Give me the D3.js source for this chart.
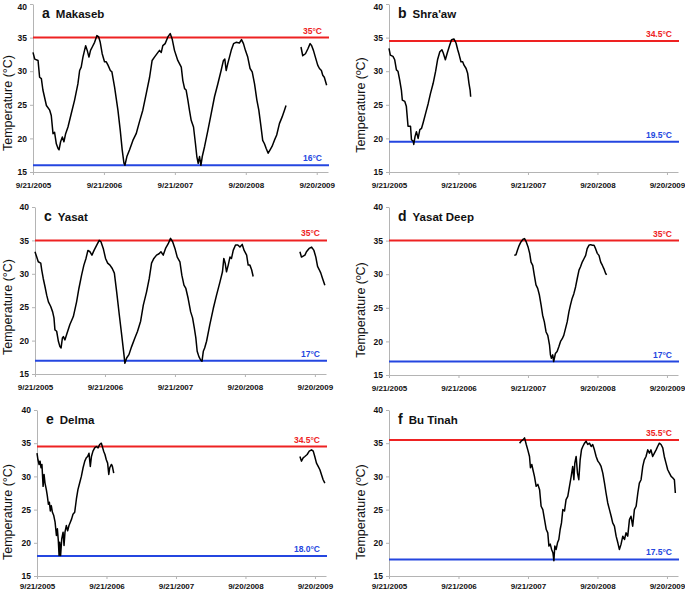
<!DOCTYPE html>
<html>
<head>
<meta charset="utf-8">
<script src="https://cdn.jsdelivr.net/npm/d3@7"></script>
<style>
  html, body { margin: 0; padding: 0; background: #fff; }
  svg { display: block; }
  text { font-family: "Liberation Sans", Arial, sans-serif; }
</style>
</head>
<body>
<svg id="chart" width="685" height="593"></svg>
<script>
// ---------------- DATA ----------------
const tickDays = [0, 365, 730, 1095, 1460];
const tickLabels = ["9/21/2005", "9/21/2006", "9/21/2007", "9/20/2008", "9/20/2009"];
const yTicks = [15, 20, 25, 30, 35, 40];

const panelLetters = ["a", "b", "c", "d", "e", "f"];
const siteNames = ["Makaseb", "Shra'aw", "Yasat", "Yasat Deep", "Delma", "Bu Tinah"];
const yTitles = ["Temperature (°C)", "Temperature (ºC)", "Temperature (°C)", "Temperature (ºC)", "Temperature (°C)", "Temperature (ºC)"];
const upperThresholds = [35, 34.5, 35, 35, 34.5, 35.5];
const lowerThresholds = [16, 19.5, 17, 17, 18.0, 17.5];
const upperLabels = ["35°C", "34.5°C", "35°C", "35°C", "34.5°C", "35.5°C"];
const lowerLabels = ["16°C", "19.5°C", "17°C", "17°C", "18.0°C", "17.5°C"];

// days since 9/21/2005, temperature (°C); null = logger gap
const makasebDays = [0,9,26,34,43,51,69,86,94,103,111,120,129,134,142,151,159,168,180,197,214,231,240,248,257,271,279,288,296,305,317,329,338,346,356,368,377,386,398,406,420,437,449,459,468,473,483,497,514,531,548,565,583,600,613,625,643,651,660,668,680,694,706,716,728,745,763,771,780,788,797,805,814,826,836,843,850,857,864,871,883,900,917,934,951,968,980,987,994,1002,1011,1020,1032,1045,1062,1073,1083,1093,1105,1117,1128,1140,1152,1162,1172,1182,1191,1200,1210,1220,1230,1242,1254,1268,1282,1294,1302,1340,1379,1388,1402,1414,1426,1434,1443,1453,1465,1474,1484,1491,1499,1511];
const makasebTemps = [32.8,31.8,31.6,29.1,28.9,27.2,24.9,24.2,23.4,20.7,20.9,19.2,18.5,18.3,19.5,20.2,19.5,20.7,21.7,23.7,25.7,28.1,30.1,30.6,32.1,33.8,33.1,32.1,33.1,33.6,34.3,35.3,35.1,34.3,32.6,31.4,31.4,30.9,30.1,29.9,27.6,24.2,21.2,18.3,16.3,16.0,17.3,18.3,19.7,20.7,22.5,24.2,26.7,29.1,31.6,32.1,32.8,33.1,32.8,33.8,34.1,35.1,35.6,34.8,33.1,31.6,30.6,28.6,27.4,27.2,25.7,24.2,22.7,21.7,19.2,17.3,16.3,17.3,16.0,17.3,18.8,21.2,23.7,26.2,28.1,30.1,31.6,31.8,30.1,31.1,32.1,33.1,34.1,34.3,34.2,34.7,34.1,33.1,32.1,30.4,29.9,28.1,25.7,24.2,22.0,19.7,19.2,18.5,17.8,18.3,18.8,19.7,20.5,22.2,23.2,24.2,24.9,null,33.6,32.3,32.6,33.3,34.1,33.8,33.1,32.1,30.9,30.4,30.1,29.4,29.1,27.9];

const shraawDays = [0,7,21,30,39,47,56,65,70,83,91,100,113,118,127,130,137,144,153,162,171,179,193,206,218,232,245,255,267,278,285,296,306,317,329,341,352,361,369,378,387,394,405,413,420,426,429];
const shraawTemps = [33.4,32.4,32.2,31.7,30.2,30.0,28.7,27.2,25.7,25.5,24.8,21.8,21.8,19.8,19.6,19.1,20.3,21.0,20.0,21.3,21.5,22.3,23.8,25.2,26.7,28.2,30.0,31.7,32.9,33.2,32.7,31.7,32.7,33.7,34.7,34.8,34.2,33.2,32.4,31.4,31.4,30.9,30.4,29.7,28.2,27.2,26.2];

const yasatDays = [0,9,17,30,35,43,52,61,70,82,92,99,104,113,122,130,136,143,148,156,165,182,200,217,229,243,255,266,276,287,297,308,322,335,344,356,368,379,391,403,414,426,440,452,464,469,478,490,504,521,535,551,565,582,596,608,620,634,647,657,669,681,695,707,718,730,742,756,766,777,787,799,812,822,831,839,846,855,864,871,878,885,895,912,930,947,965,978,985,992,999,1008,1017,1025,1034,1046,1058,1069,1081,1091,1104,1112,1121,1130,1138,1260,1382,1390,1408,1416,1430,1443,1455,1465,1474,1483,1491,1500,1512];
const yasatTemps = [33.3,32.5,31.8,31.6,30.6,29.3,28.1,26.8,25.8,25.1,24.3,23.4,21.6,21.4,19.9,19.1,18.9,20.4,20.6,20.1,20.9,22.4,23.6,25.8,27.8,29.8,31.3,32.3,33.5,33.3,32.8,33.5,34.3,35.0,34.8,33.8,32.3,31.6,31.3,30.8,30.1,27.3,23.8,20.9,17.9,16.6,17.4,17.9,19.1,20.4,21.4,22.9,25.3,27.3,29.3,31.6,32.3,32.8,33.0,33.3,32.8,33.8,34.5,35.3,34.8,33.8,32.5,31.8,29.8,28.3,27.8,26.3,24.3,23.4,21.9,20.4,18.4,17.6,17.1,16.9,18.4,18.9,19.9,22.4,24.8,26.8,28.8,30.3,32.3,31.6,30.3,31.3,32.5,32.3,33.5,34.3,34.3,34.0,34.4,33.5,32.8,31.3,31.3,30.6,29.6,null,33.3,32.5,32.8,33.3,33.8,34.0,33.5,32.5,31.1,30.6,30.1,29.3,28.3];

const yasatDeepDays = [658,667,675,684,693,704,712,721,730,739,746,755,763,772,781,790,799,807,816,825,834,843,848,853,860,865,874,883,892,901,910,918,927,936,945,953,962,971,980,989,998,1006,1015,1024,1033,1041,1050,1059,1068,1077,1085,1094,1103,1112,1121,1129,1138,1143];
const yasatDeepTemps = [32.8,32.9,33.6,34.3,34.8,35.2,35.3,34.8,34.1,33.1,31.8,31.3,29.9,28.4,27.9,26.9,25.4,23.9,22.9,21.4,20.9,19.5,18.0,17.5,18.0,17.0,18.2,18.5,19.2,20.0,20.4,20.9,21.9,22.9,24.4,25.4,26.4,27.1,28.1,29.4,30.6,31.1,31.8,32.3,32.8,33.8,34.3,34.4,34.3,34.3,33.8,33.1,32.8,31.8,31.3,30.8,30.1,29.9];

const delmaDays = [0,5,11,16,21,26,32,37,42,49,54,60,65,70,75,81,88,95,102,107,112,116,119,124,130,137,142,147,154,161,168,175,182,189,198,207,215,224,233,242,251,259,266,273,280,286,294,303,312,321,329,338,343,350,357,364,371,377,382,391,396,403,900,1381,1389,1398,1407,1419,1430,1442,1451,1459,1468,1477,1486,1494,1503,1512];
const delmaTemps = [33.5,32.5,31.8,32.3,31.3,31.8,28.5,30.3,29.0,28.0,27.1,25.8,26.1,24.8,25.6,24.6,24.1,23.1,21.1,22.1,20.3,18.1,20.1,18.1,20.6,21.6,19.6,21.6,22.6,21.8,22.6,23.1,23.6,24.3,24.6,26.6,28.0,29.0,30.0,31.3,32.3,32.8,33.0,33.5,31.5,33.0,33.8,34.3,34.5,34.3,34.8,35.0,34.5,33.8,33.3,32.5,32.0,30.3,31.3,31.8,31.5,30.5,null,33.0,32.3,32.8,33.0,33.3,33.8,34.0,33.8,33.0,32.0,31.5,31.0,30.3,29.5,29.0];

const buTinahDays = [686,694,703,712,721,729,738,743,750,756,764,773,782,791,799,808,817,826,834,840,847,854,861,866,871,878,885,892,899,906,913,922,930,939,948,957,965,971,976,983,990,997,1004,1011,1018,1027,1035,1044,1053,1062,1070,1079,1088,1097,1105,1114,1123,1132,1140,1149,1158,1167,1175,1184,1193,1202,1210,1219,1228,1237,1245,1254,1263,1271,1280,1289,1298,1307,1315,1324,1333,1341,1350,1359,1368,1376,1385,1394,1403,1411,1420,1429,1438,1446,1455,1464,1473,1482,1490,1499,1504];
const buTinahTemps = [35.0,35.3,35.5,35.8,34.8,34.0,33.0,31.3,31.8,31.0,30.0,28.5,28.8,28.0,25.5,25.0,23.5,22.0,21.5,19.5,19.8,19.0,18.5,17.3,19.5,19.0,20.0,20.5,22.0,23.0,25.0,24.8,26.5,27.0,28.5,30.0,31.5,29.5,32.0,33.0,30.5,29.5,32.5,34.0,34.5,35.0,35.3,34.8,35.0,34.5,34.8,34.0,33.0,32.3,32.0,31.5,30.5,29.0,27.5,26.0,25.0,24.0,23.0,22.5,21.0,20.0,19.0,19.8,21.0,20.5,21.5,21.0,23.5,24.0,22.5,25.0,25.5,27.5,29.0,29.5,31.5,32.5,33.0,34.0,33.5,34.0,33.0,33.5,34.0,34.5,35.0,34.8,34.3,33.0,32.0,31.0,30.5,30.0,29.8,29.5,27.5];

const seriesDays = [makasebDays, shraawDays, yasatDays, yasatDeepDays, delmaDays, buTinahDays];
const seriesTemps = [makasebTemps, shraawTemps, yasatTemps, yasatDeepTemps, delmaTemps, buTinahTemps];

// ---------------- LAYOUT ----------------
const layouts = [
  {x0: 33,  x1: 328, y0: 4,   y1: 172, titleX: 8,   titleY: 103, pad: 7},
  {x0: 389, x1: 678, y0: 4,   y1: 172, titleX: 361, titleY: 105, pad: 7},
  {x0: 35,  x1: 326, y0: 207, y1: 374, titleX: 8,   titleY: 307, pad: 7},
  {x0: 389, x1: 678, y0: 207, y1: 375, titleX: 361, titleY: 310, pad: 7},
  {x0: 37,  x1: 326, y0: 410, y1: 576, titleX: 8,   titleY: 512, pad: 4},
  {x0: 389, x1: 678, y0: 410, y1: 576, titleX: 361, titleY: 512, pad: 4}
];
const xDomainEnd = 1518;
const axisColor = "#b4b4b4";
const redColor = "#ee2222";
const blueColor = "#2446e0";

const svg = d3.select("#chart");

layouts.forEach((L, i) => {
  const g = svg.append("g");
  const x = d3.scaleLinear().domain([0, xDomainEnd]).range([L.x0, L.x1]);
  const y = d3.scaleLinear().domain([15, 40]).range([L.y1, L.y0]);

  // y axis
  const yAxis = g.append("g").attr("transform", `translate(${L.x0},0)`)
    .call(d3.axisLeft(y).tickValues(yTicks).tickSize(3).tickSizeOuter(0).tickPadding(3));
  yAxis.select(".domain").attr("stroke", axisColor).attr("stroke-width", 1);
  yAxis.selectAll(".tick line").attr("stroke", axisColor);
  yAxis.selectAll(".tick text").attr("fill", "#111").style("font-size", "8.5px").style("font-weight", "bold")
    .style("font-family", "'Liberation Sans', Arial, sans-serif")
    .attr("dy", d => (y(d) < 8 ? "0.6em" : "0.32em"));

  // x axis
  const xAxis = g.append("g").attr("transform", `translate(0,${L.y1})`)
    .call(d3.axisBottom(x).tickValues(tickDays).tickFormat((d, k) => tickLabels[k]).tickSize(3).tickSizeOuter(0).tickPadding(L.pad));
  xAxis.select(".domain").attr("stroke", axisColor).attr("stroke-width", 1);
  xAxis.selectAll(".tick line").attr("stroke", axisColor);
  xAxis.selectAll(".tick text").attr("fill", "#111").style("font-size", "8px").style("font-weight", "bold")
    .style("font-family", "'Liberation Sans', Arial, sans-serif");

  // threshold lines
  [[upperThresholds[i], upperLabels[i], redColor], [lowerThresholds[i], lowerLabels[i], blueColor]].forEach(([v, lab, col]) => {
    g.append("line")
      .attr("x1", L.x0).attr("x2", L.x1 + 1)
      .attr("y1", y(v)).attr("y2", y(v))
      .attr("stroke", col).attr("stroke-width", 2);
    g.append("text")
      .attr("x", L.x1 - 6).attr("y", y(v) - 4)
      .attr("text-anchor", "end")
      .attr("fill", col)
      .style("font-size", "8.5px").style("font-weight", "bold")
      .text(lab);
  });

  // temperature series
  const pts = seriesDays[i].map((d, k) => ({d, t: seriesTemps[i][k]}));
  const line = d3.line().defined(p => p.t !== null).x(p => x(p.d)).y(p => y(p.t));
  g.append("path").datum(pts)
    .attr("d", line)
    .attr("fill", "none")
    .attr("stroke", "#000")
    .attr("stroke-width", 1.5)
    .attr("stroke-linejoin", "round");

  // panel label
  const lbl = g.append("text").attr("x", L.x0 + 9).attr("y", L.y0 + 14).attr("fill", "#111");
  lbl.append("tspan").style("font-size", "14px").style("font-weight", "bold").text(panelLetters[i]);
  lbl.append("tspan").attr("dx", 6).style("font-size", "11.5px").style("font-weight", "bold").text(siteNames[i]);

  // y axis title
  g.append("text")
    .attr("transform", `translate(${L.titleX + 4},${L.titleY}) rotate(-90)`)
    .attr("text-anchor", "middle")
    .attr("fill", "#111")
    .style("font-size", "12.5px")
    .text(yTitles[i]);
});
</script>
</body>
</html>
